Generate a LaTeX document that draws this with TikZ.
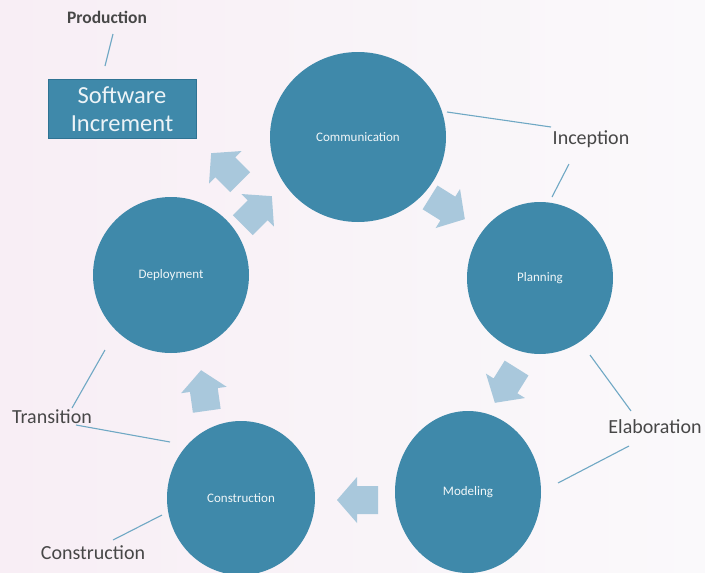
\documentclass[tikz,border=0pt]{standalone}
\usepackage{fontspec}
\setmainfont{Carlito}
\definecolor{bgl}{HTML}{F8EEF5}
\definecolor{bgr}{HTML}{FAF9FB}
\definecolor{teal}{HTML}{3F89AA}
\definecolor{tealdk}{HTML}{2F7393}
\definecolor{arrowc}{HTML}{A9C8DC}
\definecolor{lblc}{HTML}{474747}
\definecolor{linec}{HTML}{6FA8C4}
\tikzset{
  phase/.style={ellipse, fill=teal, inner sep=0pt, text=white!92!teal, font=\fontsize{13}{15}\selectfont},
  lbl/.style={text=lblc, font=\fontsize{20}{22}\selectfont, inner sep=1pt},
  lbline/.style={draw=linec, line width=1.1pt},
  pics/blockarrow/.style={code={\fill[arrowc] (-20,-14) -- (1,-14) -- (1,-23) -- (21,0) -- (1,23) -- (1,14) -- (-20,14) -- cycle;}}
}
\usetikzlibrary{shapes.geometric}
\begin{document}
\begin{tikzpicture}[x=1pt,y=-1pt]
\shade[left color=bgl, right color=bgr] (0,0) rectangle (705,573);
\useasboundingbox (0,0) rectangle (705,573);
% phases
\node[phase, minimum width=176pt, minimum height=170pt] (comm) at (358,137) {Communication};
\node[phase, minimum width=146pt, minimum height=152pt] (plan) at (540,278) {Planning};
\node[phase, minimum width=146pt, minimum height=162pt] (model) at (468,492) {Modeling};
\node[phase, minimum width=148pt, minimum height=154pt] (cons) at (241,498) {Construction};
\node[phase, minimum width=156pt, minimum height=156pt] (dep) at (171,275) {Deployment};
% software increment
\node[draw=tealdk, line width=1pt, fill=teal, text=white!90!teal, minimum width=148pt, minimum height=59pt, inner sep=0pt, align=center, font=\fontsize{24.5}{28}\selectfont] (soft) at (122,109) {Software\\Increment};
% block arrows
\pic[rotate=-32] at (447,208) {blockarrow};
\pic[rotate=-122] at (506,385) {blockarrow};
\pic[rotate=180] at (358,500) {blockarrow};
\pic[rotate=98] at (204,391) {blockarrow};
\pic[rotate=45] at (257,211) {blockarrow};
\pic[rotate=135] at (226,168) {blockarrow};
% labels
\node[lbl, font=\fontsize{17.5}{20}\bfseries] (prod) at (107,17) {Production};
\node[lbl] (incep) at (591,139) {Inception};
\node[lbl] (elab) at (655,427) {Elaboration};
\node[lbl] (trans) at (52,417) {Transition};
\node[lbl] (consl) at (93,553) {Construction};
% label lines
\coordinate (p1) at (113,34);
\coordinate (p2) at (105,66);
\draw[lbline] (p1) -- (p2);
\coordinate (i1) at (447,112);
\coordinate (i2) at (551,127);
\draw[lbline] (i1) -- (i2);
\coordinate (i3) at (569,164);
\coordinate (i4) at (552,197);
\draw[lbline] (i3) -- (i4);
\coordinate (e1) at (590,355);
\coordinate (e2) at (631,411);
\draw[lbline] (e1) -- (e2);
\coordinate (e3) at (629,446);
\coordinate (e4) at (558,483);
\draw[lbline] (e3) -- (e4);
\coordinate (t1) at (105,350);
\coordinate (t2) at (72,408);
\draw[lbline] (t1) -- (t2);
\coordinate (t3) at (76,425);
\coordinate (t4) at (170,442);
\draw[lbline] (t3) -- (t4);
\coordinate (c1) at (162,515);
\coordinate (c2) at (113,540);
\draw[lbline] (c1) -- (c2);
\end{tikzpicture}
\end{document}
